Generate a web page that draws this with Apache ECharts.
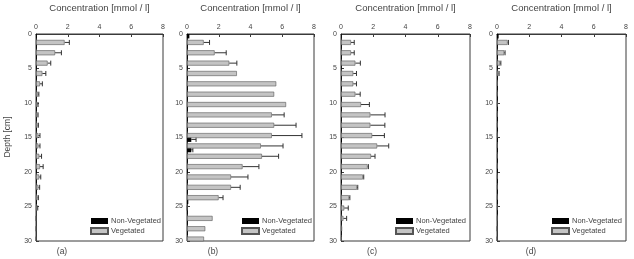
<!DOCTYPE html>
<html>
<head>
<meta charset="utf-8">
<script src="https://cdn.jsdelivr.net/npm/echarts@6/dist/echarts.min.js"></script>
<style>
html,body{margin:0;padding:0;background:#fff;}
#chart{width:634px;height:259px;}
</style>
</head>
<body>
<div id="chart"></div>
<script>
// Depth slices (cm, mid-points of 1.5 cm layers)
const depthCategories = ['0.75','2.25','3.75','5.25','6.75','8.25','9.75','11.25','12.75','14.25','15.75','17.25','18.75','20.25','21.75','23.25','24.75','26.25','27.75','29.25'];
const depthTicks = [0, 5, 10, 15, 20, 25, 30];
const concTicks = [0, 2, 4, 6, 8];
const panelLabels = ['(a)', '(b)', '(c)', '(d)'];
const xTitle = 'Concentration [mmol / l]';
const yTitle = 'Depth [cm]';
const seriesNames = ['Non-Vegetated', 'Vegetated'];

// Panel (a)
const nonVegA    = [0.05,0.05,0.05,0.05,0.05,0.05,0.05,0.05,0.05,0.05,0.05,0.05,0.05,0.05,0.05,0.05,0.05,0,0,0];
const nonVegAErr = [0,0,0,0,0,0,0,0,0,0,0,0,0,0,0,0,0,0,0,0];
const vegA       = [1.8,1.2,0.73,0.4,0.25,0.13,0.1,0.1,0.1,0.15,0.15,0.2,0.25,0.2,0.15,0.1,0.08,0,0,0];
const vegAErr    = [0.3,0.4,0.2,0.22,0.15,0.05,0.03,0.03,0.05,0.1,0.1,0.15,0.2,0.1,0.08,0.05,0.03,0,0,0];
// Panel (b)
const nonVegB    = [0.15,0.05,0.05,0.05,0.05,0.05,0.05,0.05,0.05,0.05,0.27,0.27,0.05,0.05,0.05,0.05,0.08,0.05,0.05,0.05];
const nonVegBErr = [0,0,0,0,0,0,0,0,0,0,0.3,0.1,0,0,0,0,0,0,0,0];
const vegB       = [1.05,1.74,2.66,3.14,5.62,5.49,6.24,5.34,5.49,5.34,4.65,4.72,3.5,2.77,2.77,1.99,0,1.61,1.15,1.07];
const vegBErr    = [0.37,0.73,0.48,0,0,0,0,0.78,1.38,1.9,1.4,1.05,1.03,1.07,0.58,0.28,0,0,0,0];
// Panel (c)
const nonVegC    = [0.04,0.04,0.04,0.04,0.04,0.04,0.04,0.04,0.04,0.04,0.06,0.04,0.04,0.04,0.04,0.04,0.04,0.04,0.04,0.04];
const nonVegCErr = [0,0,0,0,0,0,0,0,0,0,0,0,0,0,0,0,0,0,0,0];
const vegC       = [0.62,0.62,0.89,0.76,0.76,0.89,1.24,1.82,1.82,1.93,2.24,1.86,1.65,1.36,0.99,0.5,0.2,0.15,0.07,0.05];
const vegCErr    = [0.2,0.2,0.31,0.2,0.2,0.3,0.52,0.91,0.9,0.76,0.72,0.25,0.05,0.05,0.05,0.05,0.25,0.2,0,0];
// Panel (d)
const nonVegD    = [0.1,0.05,0.05,0.05,0.05,0.05,0.05,0.05,0.05,0.05,0.05,0.05,0.05,0.05,0.05,0.05,0.05,0.05,0,0];
const nonVegDErr = [0,0,0,0,0,0,0,0,0,0,0,0,0,0,0,0,0,0,0,0];
const vegD       = [0.66,0.45,0.19,0.1,0.05,0.04,0.04,0.04,0.04,0.04,0.04,0.04,0.04,0.04,0.04,0.04,0.04,0.04,0,0];
const vegDErr    = [0.05,0.05,0.05,0.03,0,0,0,0,0,0,0,0,0,0,0,0,0,0,0,0];

const panels = [
  {non: nonVegA, nonErr: nonVegAErr, veg: vegA, vegErr: vegAErr},
  {non: nonVegB, nonErr: nonVegBErr, veg: vegB, vegErr: vegBErr},
  {non: nonVegC, nonErr: nonVegCErr, veg: vegC, vegErr: vegCErr},
  {non: nonVegD, nonErr: nonVegDErr, veg: vegD, vegErr: vegDErr}
];

// layout (pixels)
const gridLefts = [36, 187, 341, 497];
const gridWidths = [127, 127, 129, 129];
const gridTop = 34, gridHeight = 207;
const labelX = [62, 213, 372, 531];
const FONT = 'Liberation Sans, Arial, sans-serif';
const AXC = '#3a3a3a';
const TXT = '#444';
const BAR_W = 5;
const OFF = 3.25;

const chart = echarts.init(document.getElementById('chart'), null, {renderer: 'canvas'});

const grid = [], xAxis = [], yAxis = [], series = [], legend = [], title = [];

panels.forEach((p, i) => {
  grid.push({left: gridLefts[i], top: gridTop, width: gridWidths[i], height: gridHeight,
    show: true, borderColor: AXC, borderWidth: 1, backgroundColor: 'transparent'});
  xAxis.push({type: 'value', gridIndex: i, position: 'top', min: concTicks[0], max: concTicks[concTicks.length-1], interval: 2,
    axisLine: {show: true, lineStyle: {color: AXC, width: 1}},
    axisTick: {show: true, inside: true, length: 3, lineStyle: {color: AXC}},
    axisLabel: {fontSize: 7, color: TXT, margin: 3, fontFamily: FONT},
    splitLine: {show: false}});
  yAxis.push({type: 'category', gridIndex: i, data: depthCategories, inverse: true, show: false,
    boundaryGap: true});
  yAxis.push({type: 'value', gridIndex: i, min: depthTicks[0], max: depthTicks[depthTicks.length-1], interval: 5, inverse: true,
    position: 'left',
    axisLine: {show: true, lineStyle: {color: AXC, width: 1}},
    axisTick: {show: true, inside: true, length: 3, lineStyle: {color: AXC}},
    axisLabel: {fontSize: 7, color: TXT, margin: 4, fontFamily: FONT},
    splitLine: {show: false}});
  const catIdx = i * 2;
  series.push({name: seriesNames[0], type: 'bar', xAxisIndex: i, yAxisIndex: catIdx, data: p.non,
    barWidth: BAR_W, barGap: '30%', itemStyle: {color: '#000', borderColor: '#000', borderWidth: 0}, silent: true, animation: false});
  series.push({name: seriesNames[1], type: 'bar', xAxisIndex: i, yAxisIndex: catIdx, data: p.veg,
    barWidth: BAR_W, barGap: '30%', itemStyle: {color: '#c4c4c4', borderColor: '#555', borderWidth: 0.6}, silent: true, animation: false});
  const errData = [];
  p.non.forEach((v, k) => { if (p.nonErr[k] > 0) errData.push([k, v, p.nonErr[k], -OFF]); });
  p.veg.forEach((v, k) => { if (p.vegErr[k] > 0) errData.push([k, v, p.vegErr[k], OFF]); });
  series.push({type: 'custom', xAxisIndex: i, yAxisIndex: catIdx, data: errData, silent: true, animation: false,
    encode: {x: [1, 2], y: 0},
    renderItem: function (params, api) {
      const cat = api.value(0), v = api.value(1), e = api.value(2), off = api.value(3);
      const a = api.coord([v, cat]);
      const b = api.coord([v + e, cat]);
      const y = a[1] + off;
      const st = {stroke: '#333', lineWidth: 1};
      return {type: 'group', children: [
        {type: 'line', shape: {x1: a[0], y1: y, x2: b[0], y2: y}, style: st},
        {type: 'line', shape: {x1: b[0], y1: y - 2.5, x2: b[0], y2: y + 2.5}, style: st}
      ]};
    }});
  legend.push({data: seriesNames, orient: 'vertical', left: gridLefts[i] + 54, top: 217,
    itemWidth: 17, itemHeight: 6, itemGap: 2, icon: 'rect', selectedMode: false,
    textStyle: {fontSize: 7.5, color: TXT, fontFamily: FONT, padding: [0, 0, 0, -2]}, padding: 0});
  title.push({text: xTitle, left: gridLefts[i] + gridWidths[i] / 2, top: 3, textAlign: 'center',
    textStyle: {fontSize: 9.5, fontWeight: 'normal', color: TXT, fontFamily: FONT}, padding: 0});
  title.push({text: panelLabels[i], left: labelX[i], top: 247, textAlign: 'center',
    textStyle: {fontSize: 8.5, fontWeight: 'normal', color: TXT, fontFamily: FONT}, padding: 0});
});

chart.setOption({
  animation: false,
  grid, xAxis, yAxis, series, legend, title,
  graphic: [{type: 'text', rotation: Math.PI / 2, x: 8, y: 137,
    style: {text: yTitle, fontSize: 8.5, fill: TXT, fontFamily: FONT, textAlign: 'center', textVerticalAlign: 'middle'}}]
});
</script>
</body>
</html>
